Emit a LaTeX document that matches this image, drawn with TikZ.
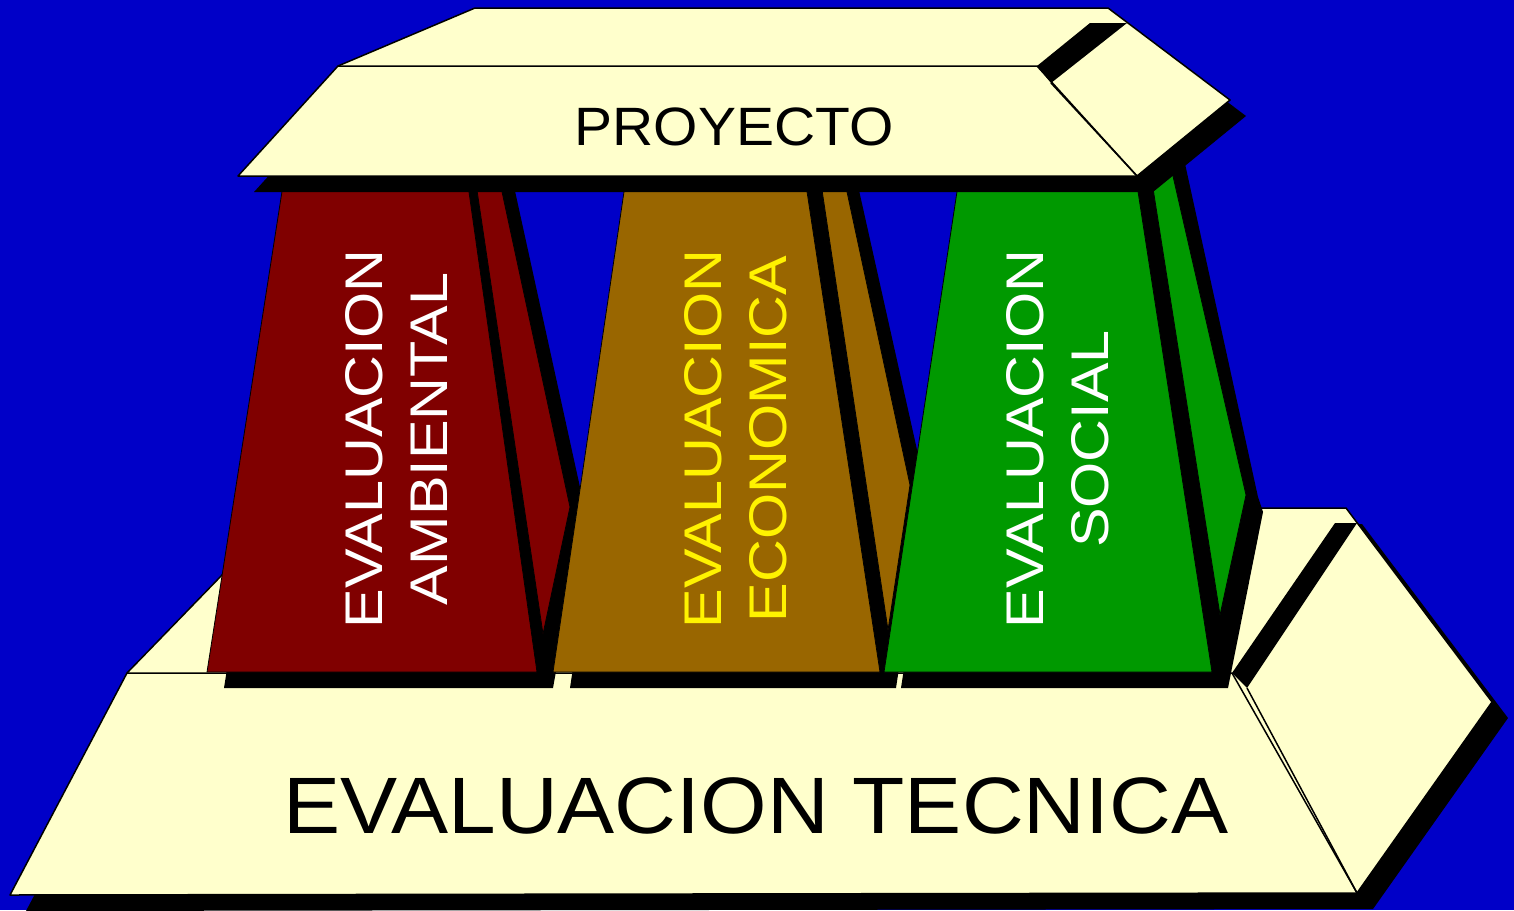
\documentclass[tikz,border=0pt]{standalone}
\usepackage{fontspec}
\setmainfont{Liberation Sans}
\newfontfamily\pillarfont[FakeStretch=1.12]{Liberation Sans}
\newfontfamily\slabfont[FakeStretch=1.055]{Liberation Sans}
\newfontfamily\basefont[FakeStretch=1.07]{Liberation Sans}

\definecolor{bgblue}{RGB}{0,0,200}
\definecolor{cream}{RGB}{255,255,204}
\definecolor{ambred}{RGB}{128,0,0}
\definecolor{ecobrown}{RGB}{153,102,0}
\definecolor{socgreen}{RGB}{0,153,0}

\tikzset{
  dropshade/.style={fill=black},
  slabface/.style={fill=cream, draw=black, line width=1.5pt, line join=round},
  slabedge/.style={draw=black, line width=1.5pt},
  pillarface/.style={fill=#1, draw=black, line width=0.8pt, line join=round},
  pillartext/.style={rotate=90, align=center, inner sep=0pt,
    font=\pillarfont\fontsize{53}{65}\selectfont},
}

\begin{document}
\begin{tikzpicture}[x=1pt,y=-1pt]
        % Background
        \fill[bgblue] (0,0) rectangle (1514,910);
        \useasboundingbox (0,0) rectangle (1514,910);

        % Base slab (evaluacion tecnica)
        \fill[dropshade] (26,911) -- (143,689) -- (303,524) -- (1362,524) -- (1508,718) -- (1373,909) -- cycle;
        \filldraw[slabface] (10,895) -- (127,673) -- (287,508) -- (1346,508) -- (1492,702) -- (1357,893) -- cycle;
        \draw[slabedge] (127,673) -- (1232,673) -- (1357,893);
        \fill[black] (1232,673) -- (1335,523) -- (1357,523) -- (1247,688) -- cycle;
        \draw[slabedge] (1247,688) -- (1357,893);

        % Red pillar
        \fill[dropshade] (224,688) -- (309,150) -- (506,150) -- (585,510) -- (553,688) -- cycle;
        \filldraw[pillarface=ambred] (471,150) -- (493,150) -- (570,507) -- (543,634) -- cycle;
        \filldraw[pillarface=ambred] (207,672) -- (283,185) -- (468,185) -- (537,672) -- cycle;

        % Brown pillar
        \fill[dropshade] (570,688) -- (650,150) -- (850,150) -- (926,490) -- (896,688) -- cycle;
        \filldraw[pillarface=ecobrown] (816,150) -- (838,150) -- (910,485) -- (888,630) -- cycle;
        \filldraw[pillarface=ecobrown] (553,672) -- (625,185) -- (806,185) -- (880,672) -- cycle;

        % Green pillar
        \fill[dropshade] (901,688) -- (983,150) -- (1182,150) -- (1258,497) -- (1263,512) -- (1228,688) -- cycle;
        \filldraw[pillarface=socgreen] (1147,150) -- (1167,150) -- (1246,495) -- (1220,615) -- cycle;
        \filldraw[pillarface=socgreen] (884,672) -- (958,185) -- (1137,185) -- (1212,672) -- cycle;

        % Pillar labels
        \node[pillartext, text=white] (ambiental) at (396,439) {EVALUACION\\AMBIENTAL};
        \node[pillartext, text=yellow] (economica) at (736,439) {EVALUACION\\ECONOMICA};
        \node[pillartext, text=white] (social) at (1058,439) {EVALUACION\\SOCIAL};

        % Top slab (proyecto)
        \fill[dropshade] (254,192) -- (354,82) -- (491,24) -- (1124,24) -- (1246,116) -- (1153,192) -- cycle;
        \filldraw[slabface] (238,176) -- (338,66) -- (475,8) -- (1108,8) -- (1230,100) -- (1137,176) -- cycle;
        \draw[slabedge] (338,66) -- (1037,66) -- (1137,176);
        \fill[black] (1037,66) -- (1090,23) -- (1127,23) -- (1051,83) -- cycle;
        \draw[slabedge] (1051,83) -- (1137,176);

        % Slab labels
        \node[font=\slabfont\fontsize{54}{60}\selectfont] (proyecto) at (734,127) {PROYECTO};
        \node[font=\basefont\fontsize{80}{90}\selectfont] (tecnica) at (756,806) {EVALUACION TECNICA};
    \end{tikzpicture}
\end{document}
